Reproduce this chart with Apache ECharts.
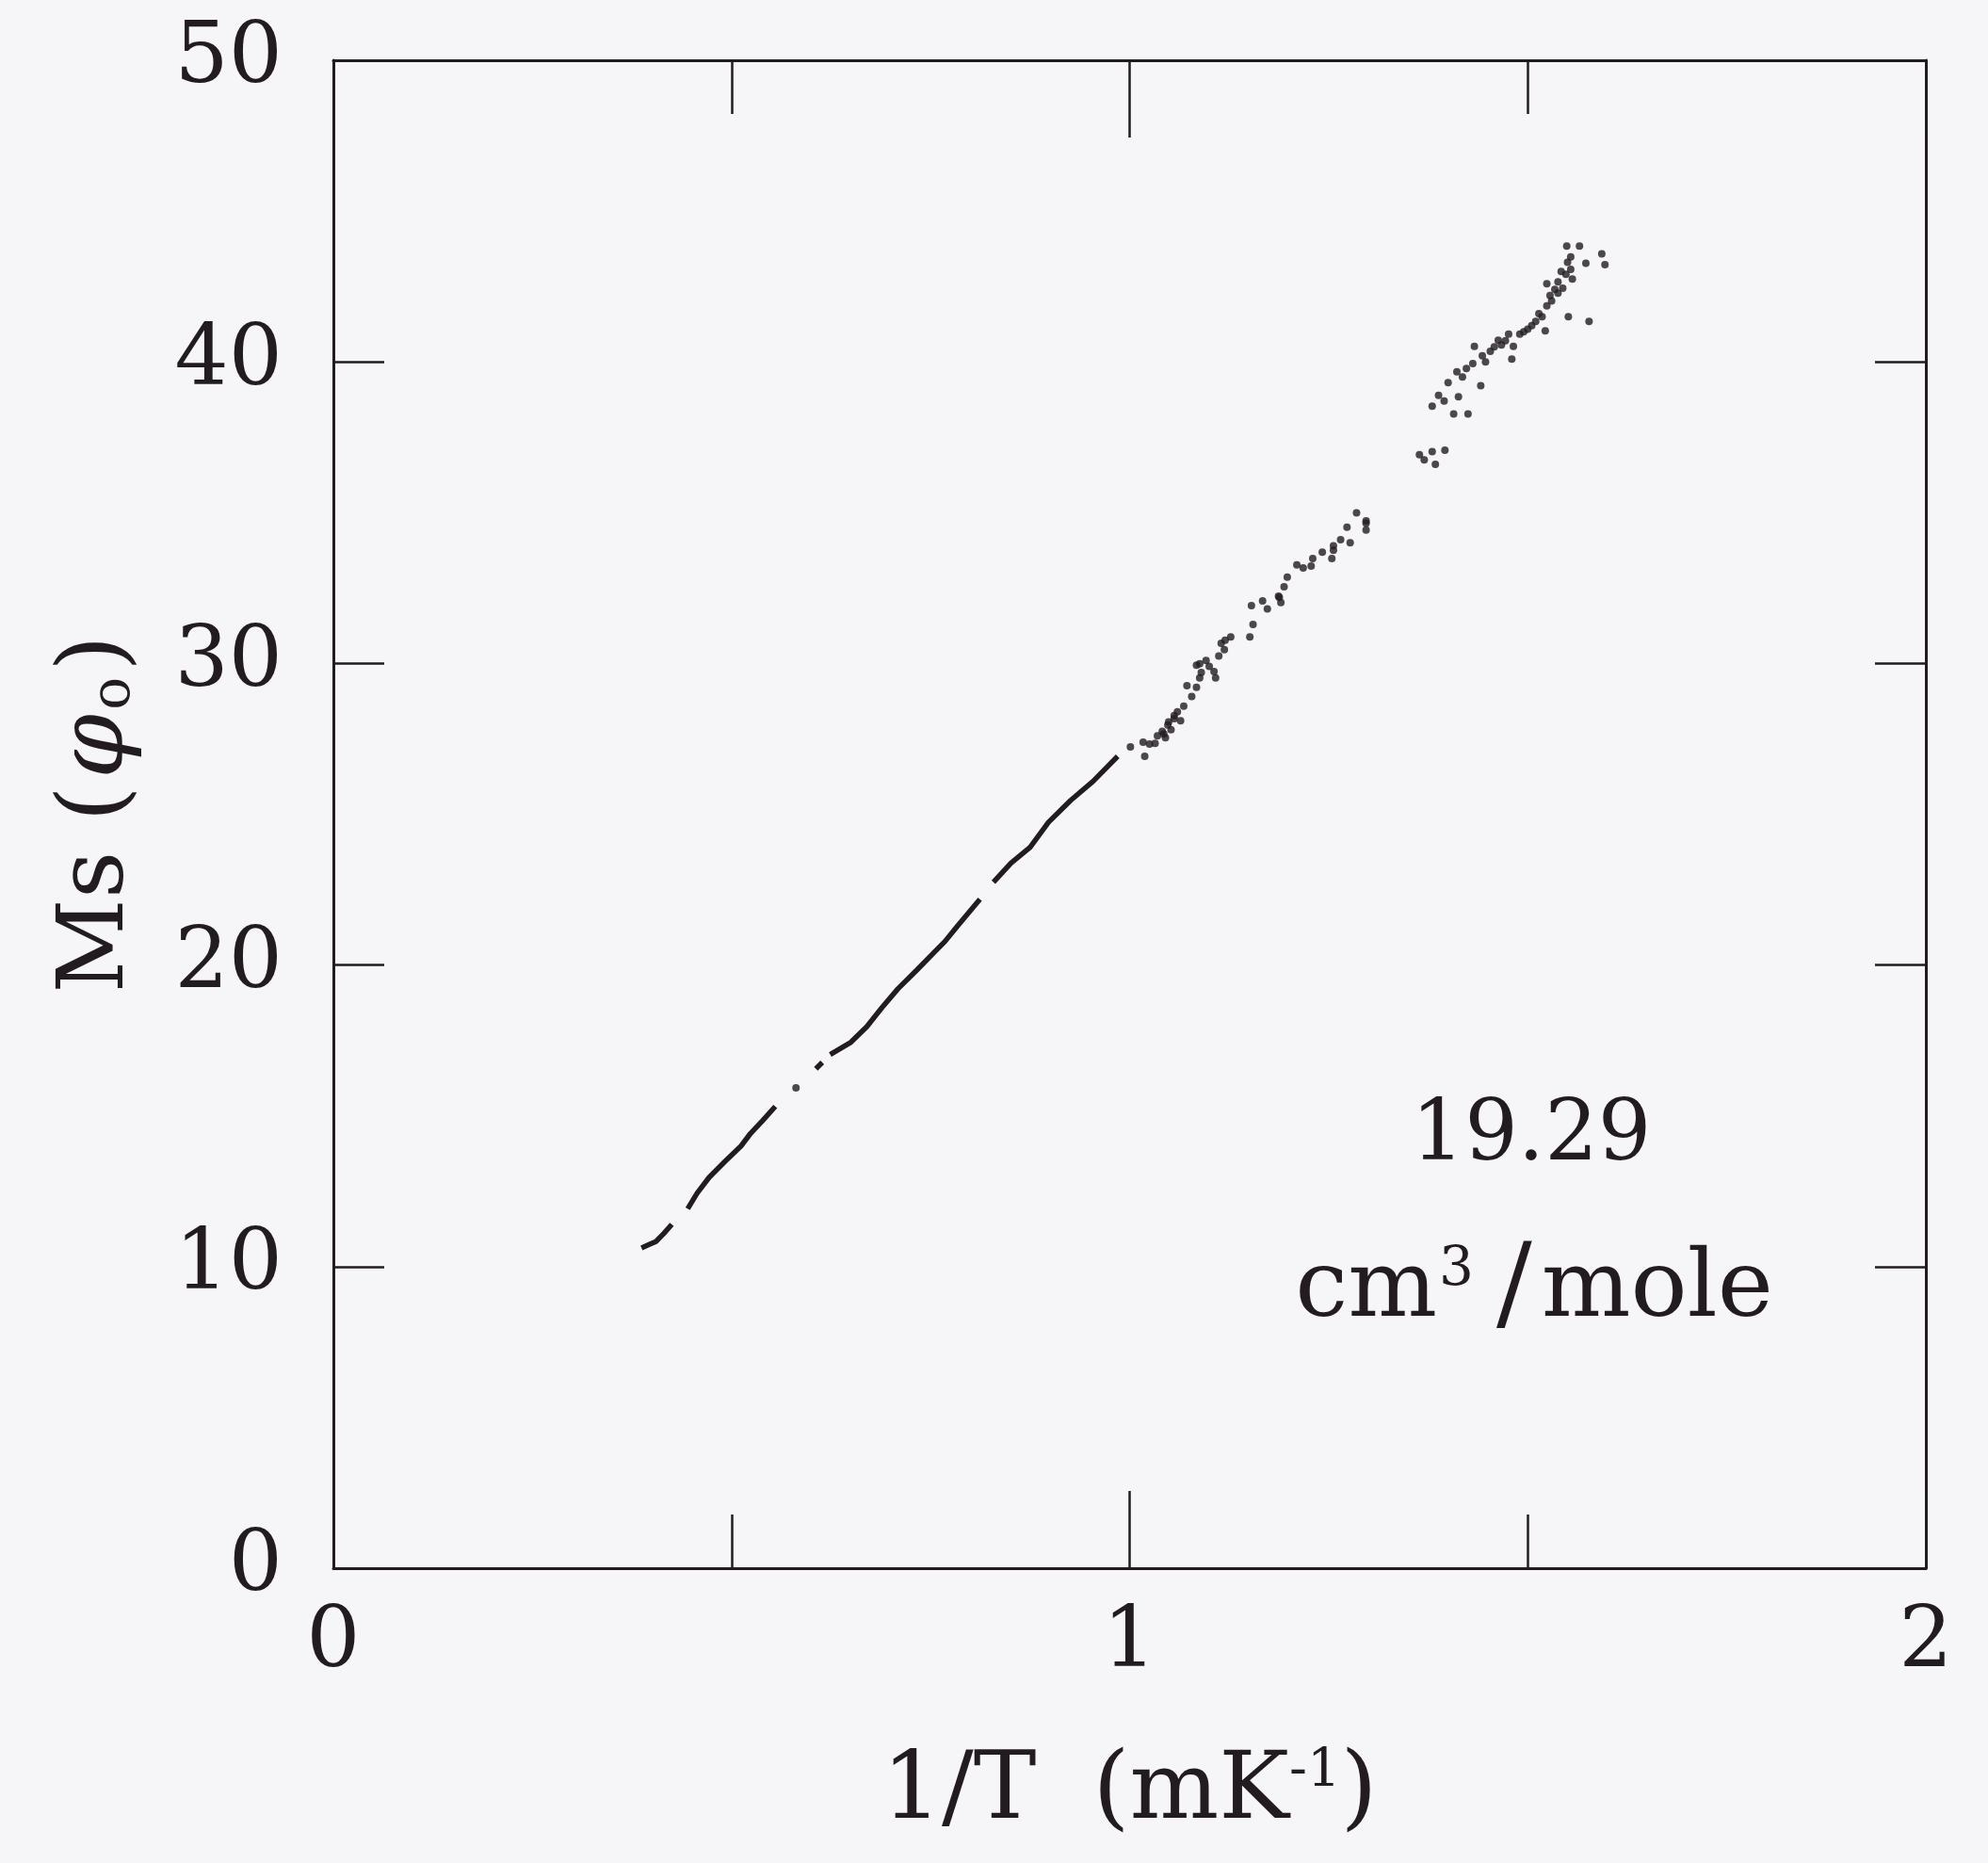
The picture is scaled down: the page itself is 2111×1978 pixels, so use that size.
<!DOCTYPE html>
<html>
<head>
<meta charset="utf-8">
<title>Ms vs 1/T</title>
<script src="https://cdn.jsdelivr.net/npm/echarts@6/dist/echarts.min.js"></script>
<style>
	html, body { margin: 0; padding: 0; background: #f6f5f7; }
	#ms-chart { width: 2111px; height: 1978px; }
</style>
</head>
<body>
<div id="ms-chart"></div>
<script>
// tick values
var xTicks = [0, 1, 2];
var yTicks = [0, 10, 20, 30, 40, 50];

// continuous runs of the trace (1/T in mK^-1, Ms in flux quanta)
var run1 = [[0.387, 10.62], [0.398, 10.75], [0.405, 10.83], [0.415, 11.10], [0.425, 11.40]];
var run2 = [[0.445, 11.92], [0.457, 12.44], [0.472, 12.96], [0.492, 13.49], [0.512, 14.00],
	[0.524, 14.42], [0.539, 14.84], [0.555, 15.31]];
var run3 = [[0.606, 16.56], [0.614, 16.77]];
var run4 = [[0.624, 17.03], [0.650, 17.44], [0.670, 17.96], [0.689, 18.59], [0.709, 19.21],
	[0.733, 19.84], [0.756, 20.46], [0.768, 20.78], [0.784, 21.30], [0.812, 22.18]];
var run5 = [[0.829, 22.75], [0.851, 23.38], [0.875, 23.90], [0.898, 24.73], [0.926, 25.46],
	[0.954, 26.09], [0.985, 26.92]];

// scattered points, lower branch
var dotsLow = [[0.581, 15.93],
	[1.001, 27.23], [1.017, 27.39], [1.019, 26.92], [1.025, 27.33], [1.032, 27.35], [1.035, 27.60],
	[1.041, 27.75], [1.043, 27.66], [1.045, 27.54], [1.048, 27.96], [1.049, 28.06], [1.052, 27.80],
	[1.056, 28.17], [1.056, 28.27], [1.060, 28.40], [1.064, 28.10], [1.068, 28.58], [1.072, 29.26],
	[1.078, 28.90], [1.084, 29.21], [1.088, 29.52], [1.084, 29.94], [1.088, 29.99], [1.090, 29.70],
	[1.096, 30.10], [1.100, 29.90], [1.108, 29.52], [1.106, 29.73], [1.112, 30.25], [1.115, 30.67],
	[1.119, 30.46], [1.120, 30.77], [1.127, 30.88], [1.151, 30.88], [1.155, 31.29], [1.153, 31.92],
	[1.167, 32.07], [1.173, 31.81], [1.187, 32.23], [1.188, 32.19], [1.190, 32.02], [1.194, 32.54],
	[1.198, 32.86], [1.210, 33.27], [1.218, 33.17], [1.228, 33.23], [1.230, 33.48], [1.242, 33.69],
	[1.254, 33.48], [1.256, 33.90], [1.256, 33.75], [1.265, 34.10], [1.273, 34.52], [1.277, 34.00],
	[1.285, 34.99], [1.297, 34.73], [1.297, 34.42], [1.297, 34.65]];

// scattered points, upper branch
var dotsHigh = [[1.364, 36.92], [1.370, 36.75], [1.380, 37.02], [1.384, 36.60], [1.396, 37.07],
	[1.380, 38.53], [1.388, 38.89], [1.395, 38.70], [1.400, 39.31], [1.407, 38.27], [1.425, 38.27],
	[1.413, 38.84], [1.411, 39.67], [1.418, 39.50], [1.423, 39.78], [1.431, 39.94], [1.441, 39.21],
	[1.433, 40.51], [1.443, 40.20], [1.447, 40.00], [1.453, 40.35], [1.458, 40.50], [1.463, 40.72],
	[1.467, 40.56], [1.472, 40.70], [1.476, 40.92], [1.480, 40.09], [1.482, 40.51], [1.490, 40.92],
	[1.495, 41.00], [1.500, 41.08], [1.505, 41.20], [1.510, 41.34], [1.514, 41.60], [1.518, 41.50],
	[1.522, 41.03], [1.524, 41.86], [1.524, 42.59], [1.528, 42.20], [1.530, 42.02], [1.534, 42.40],
	[1.538, 42.28], [1.538, 42.65], [1.542, 43.00], [1.544, 42.44], [1.548, 42.90], [1.549, 43.84],
	[1.550, 43.30], [1.551, 41.50], [1.554, 43.48], [1.554, 43.07], [1.556, 42.75], [1.565, 43.84],
	[1.573, 43.27], [1.577, 41.34], [1.593, 43.58], [1.597, 43.22]];

var runs = [run1, run2, run3, run4, run5];

window.onload = function() {
	loadMsChart();
};

function loadMsChart() {
	var dom = document.getElementById('ms-chart');
	var chart = echarts.init(dom, null, { renderer: 'canvas' });
	var ink = '#221c20';
	var face = '"DejaVu Serif", "Liberation Serif", serif';

	var xBase = {
		type: 'value',
		min: xTicks[0],
		max: xTicks[xTicks.length - 1],
		interval: 1,
		axisLine: { show: true, onZero: false, lineStyle: { color: ink, width: 3 } },
		axisTick: { show: true, inside: true, length: 82, lineStyle: { color: ink, width: 2.5 } },
		minorTick: { show: true, splitNumber: 2, length: 57, lineStyle: { color: ink, width: 2.5 } },
		splitLine: { show: false }
	};
	var yBase = {
		type: 'value',
		min: yTicks[0],
		max: yTicks[yTicks.length - 1],
		interval: 10,
		axisLine: { show: true, onZero: false, lineStyle: { color: ink, width: 3 } },
		axisTick: { show: true, inside: true, length: 54, lineStyle: { color: ink, width: 2.5 } },
		splitLine: { show: false }
	};

	var series = runs.map(function(r) {
		return {
			type: 'line',
			data: r,
			symbol: 'none',
			smooth: false,
			lineStyle: { color: ink, width: 5.5 },
			xAxisIndex: 0,
			yAxisIndex: 0,
			silent: true
		};
	});
	series.push({
		type: 'scatter',
		data: dotsLow.concat(dotsHigh),
		symbol: 'circle',
		symbolSize: 8,
		itemStyle: { color: ink },
		xAxisIndex: 0,
		yAxisIndex: 0
	});

	var option = {
		backgroundColor: '#f6f5f7',
		animation: false,
		grid: { left: 354, right: 66, top: 64, bottom: 313 },
		xAxis: [
			Object.assign({}, xBase, {
				position: 'bottom',
				name: '{t|1/T}{g|(mK}{s|-1}{t|)}',
				nameLocation: 'middle',
				nameGap: 188,
				nameTextStyle: {
					rich: {
						t: { fontFamily: face, fontSize: 100, color: ink },
						g: { fontFamily: face, fontSize: 100, color: ink, padding: [0, 0, 0, 60] },
						s: { fontFamily: face, fontSize: 56, color: ink, padding: [0, 0, 46, 0] }
					}
				},
				axisLabel: { show: true, margin: 36, fontFamily: face, fontSize: 90, color: ink }
			}),
			Object.assign({}, xBase, {
				position: 'top',
				axisLabel: { show: false }
			})
		],
		yAxis: [
			Object.assign({}, yBase, {
				position: 'left',
				name: '{t|Ms (}{p|φ}{s|o}{t|)}',
				nameLocation: 'middle',
				nameGap: 200,
				nameRotate: 90,
				nameTextStyle: {
					rich: {
						t: { fontFamily: face, fontSize: 98, color: ink },
						p: { fontFamily: face, fontSize: 98, fontStyle: 'italic', color: ink, padding: [0, 4, 0, 8] },
						s: { fontFamily: face, fontSize: 58, color: ink, padding: [34, 6, 0, 0] }
					}
				},
				axisLabel: { show: true, margin: 54, fontFamily: face, fontSize: 90, color: ink }
			}),
			Object.assign({}, yBase, {
				position: 'right',
				axisLabel: { show: false }
			})
		],
		graphic: [
			{
				type: 'text',
				x: 1626,
				y: 1208,
				style: {
					text: '19.29',
					font: '89px ' + face,
					fill: ink,
					align: 'center',
					verticalAlign: 'middle'
				}
			},
			{
				type: 'text',
				x: 1629,
				y: 1371,
				style: {
					text: '{t|cm}{s|3}{d|/}{t|mole}',
					align: 'center',
					verticalAlign: 'middle',
					rich: {
						t: { fontFamily: face, fontSize: 100, fill: ink },
						d: { fontFamily: face, fontSize: 112, fill: ink, padding: [0, 10, 0, 24] },
						s: { fontFamily: face, fontSize: 58, fill: ink, padding: [0, 0, 44, 2] }
					}
				}
			}
		],
		series: series
	};
	chart.setOption(option);
}
</script>
</body>
</html>
